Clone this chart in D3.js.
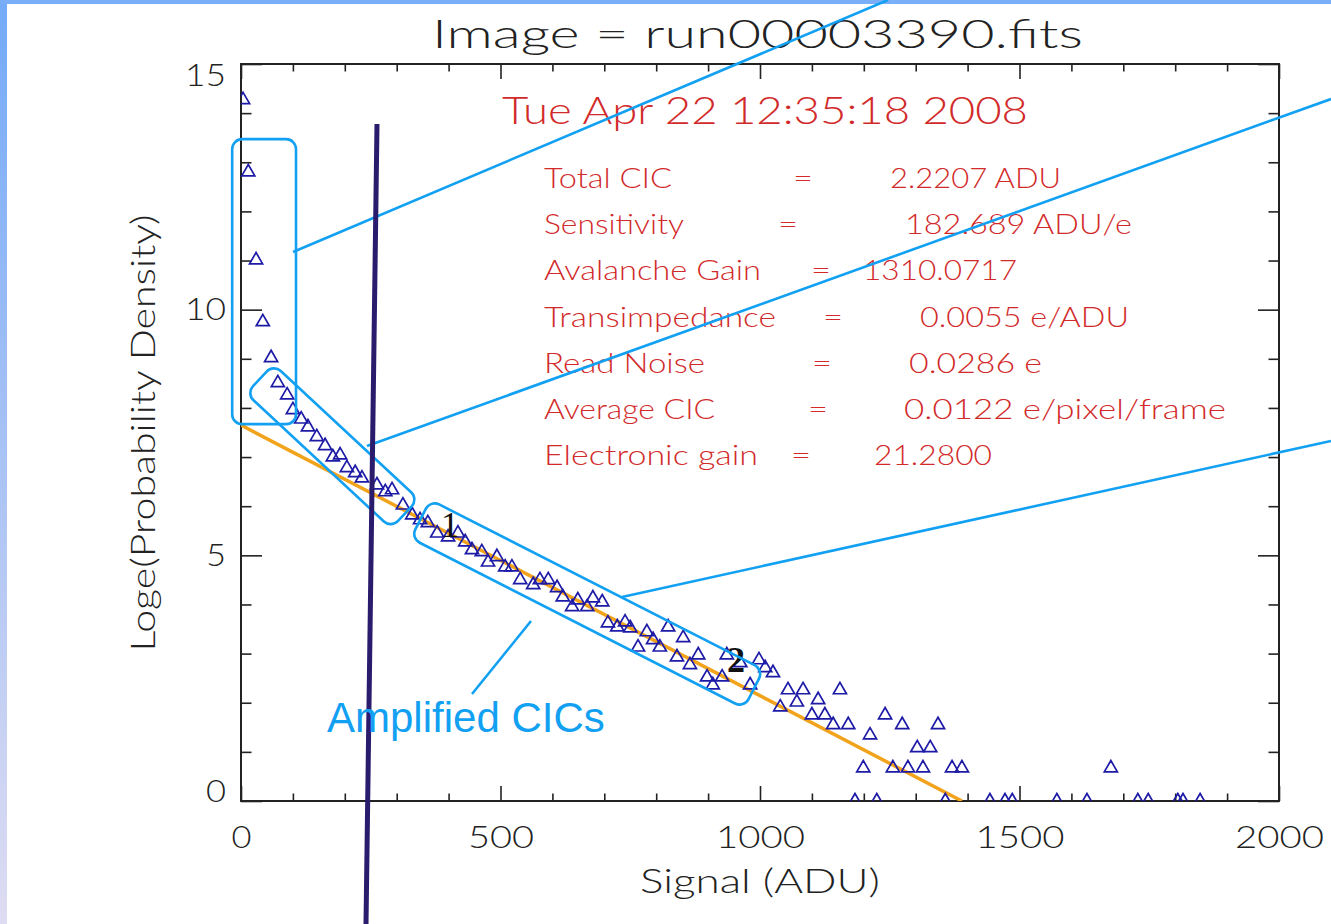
<!DOCTYPE html>
<html>
<head>
<meta charset="utf-8">
<script src="https://cdn.jsdelivr.net/npm/d3@7"></script>
<style>
  body { margin: 0; background: #fff; }
  text { font-family: Lato, "DejaVu Sans", sans-serif; font-weight: 300; }
</style>
</head>
<body>
<svg id="chart" width="1331" height="924"></svg>
<script>
// histogram points: signal (ADU) vs log(probability density)
const signalADU = [4, 14, 29, 42, 58, 71, 89, 100, 116, 129,
    146, 162, 177, 191, 204, 220, 233, 262, 278, 291,
    312, 330, 345, 360, 378, 399, 418, 432, 445, 464,
    476, 493, 509, 522, 538, 563, 576, 592, 609, 620,
    638, 649, 667, 678, 696, 707, 725, 740, 750, 765,
    782, 794, 807, 823, 840, 852, 865, 881, 898, 909,
    927, 936, 962, 981, 998, 1010, 1025, 1054, 1083, 1154,
    1039, 1071, 1112, 1100, 1125, 1141, 1170, 1212, 1241, 1274,
    1343, 1303, 1328, 1199, 1256, 1285, 1314, 1370, 1389, 1676,
    1183, 1225, 1357, 1443, 1472, 1486, 1572, 1630, 1728, 1748, 1805, 1815, 1848];
const logDensity = [14.27, 12.80, 11.01, 9.75, 9.02, 8.51, 8.26, 7.96, 7.77, 7.61,
    7.41, 7.23, 7.00, 7.04, 6.78, 6.68, 6.57, 6.43, 6.29, 6.33,
    6.02, 5.82, 5.72, 5.66, 5.45, 5.37, 5.45, 5.27, 5.11, 5.07,
    4.86, 4.97, 4.76, 4.76, 4.50, 4.40, 4.50, 4.50, 4.34, 4.15,
    3.95, 4.09, 3.95, 4.13, 4.05, 3.62, 3.54, 3.64, 3.52, 3.13,
    3.44, 3.28, 3.13, 3.54, 2.93, 3.32, 2.77, 2.97, 2.52, 2.36,
    2.52, 2.97, 2.81, 2.36, 2.87, 2.71, 2.61, 2.26, 2.26, 2.26,
    1.91, 2.01, 2.06, 1.75, 1.75, 1.55, 1.55, 1.34, 1.75, 1.55,
    1.55, 1.08, 1.08, 0.67, 0.67, 0.67, 0.67, 0.67, 0.67, 0.67,
    0, 0, 0, 0, 0, 0, 0, 0, 0, 0, 0, 0, 0];

// fitted line (orange)
const fitSignal = [0, 1389];
const fitLog = [7.65, 0];

const xTicks = [0, 500, 1000, 1500, 2000];
const yTicks = [0, 5, 10, 15];

const titleText = "Image = run00003390.fits";
const dateText = "Tue Apr 22 12:35:18 2008";
const statLabels = ["Total CIC", "Sensitivity", "Avalanche Gain", "Transimpedance",
    "Read Noise", "Average CIC", "Electronic gain"];
const statValues = ["2.2207 ADU", "182.689 ADU/e", "1310.0717", "0.0055 e/ADU",
    "0.0286 e", "0.0122 e/pixel/frame", "21.2800"];

// layout of the red stats block (pixels), one entry per line
const statLayout = [
    { lw: 128, eq: 793, vx: 890, vw: 171 },
    { lw: 140, eq: 778, vx: 905, vw: 227 },
    { lw: 217, eq: 811, vx: 863, vw: 154 },
    { lw: 232, eq: 823, vx: 920, vw: 209 },
    { lw: 161, eq: 812, vx: 909, vw: 133 },
    { lw: 171, eq: 808, vx: 904, vw: 322 },
    { lw: 214, eq: 791, vx: 874, vw: 118 }
];

const width = 1331, height = 924;
const svg = d3.select("#chart");

const x = d3.scaleLinear().domain([0, 2000]).range([241, 1279]);
const y = d3.scaleLinear().domain([0, 15]).range([801, 64]);

// slide background edges
const defs = svg.append("defs");
const grad = defs.append("linearGradient").attr("id", "edge")
    .attr("x1", 0).attr("y1", 0).attr("x2", 0).attr("y2", 1);
grad.append("stop").attr("offset", "0%").attr("stop-color", "#74aaf7");
grad.append("stop").attr("offset", "100%").attr("stop-color", "#dedcf2");
svg.append("rect").attr("width", width).attr("height", height).attr("fill", "#fff");
svg.append("rect").attr("width", 7).attr("height", height).attr("fill", "url(#edge)");
svg.append("rect").attr("width", width).attr("height", 4).attr("fill", "#7aaef8");

defs.append("clipPath").attr("id", "plotclip").append("rect")
    .attr("x", x(0)).attr("y", y(15)).attr("width", x(2000) - x(0)).attr("height", y(0) - y(15));

// axes: major + minor ticks, all pointing inward
const minorX = d3.range(0, 2001, 100).filter(d => d % 500 !== 0);
const minorY = d3.range(0, 16, 1).filter(d => d % 5 !== 0);

function drawAxis(axis, tx, ty) {
    const g = svg.append("g").attr("transform", `translate(${tx},${ty})`).call(axis);
    g.select(".domain").remove();
    g.selectAll("line").attr("stroke", "#222").attr("stroke-width", 1.6);
    return g;
}

const bottom = drawAxis(d3.axisBottom(x).tickValues(xTicks).tickSize(-15).tickPadding(24)
    .tickFormat(d3.format("d")), 0, y(0));
drawAxis(d3.axisBottom(x).tickValues(minorX).tickSize(-7.5).tickFormat(""), 0, y(0));
drawAxis(d3.axisTop(x).tickValues(xTicks).tickSize(-15).tickFormat(""), 0, y(15));
drawAxis(d3.axisTop(x).tickValues(minorX).tickSize(-7.5).tickFormat(""), 0, y(15));

const left = drawAxis(d3.axisLeft(y).tickValues(yTicks).tickSize(-21).tickPadding(15)
    .tickFormat(d3.format("d")), x(0), 0);
drawAxis(d3.axisLeft(y).tickValues(minorY).tickSize(-10.5).tickFormat(""), x(0), 0);
drawAxis(d3.axisRight(y).tickValues(yTicks).tickSize(-21).tickFormat(""), x(2000), 0);
drawAxis(d3.axisRight(y).tickValues(minorY).tickSize(-10.5).tickFormat(""), x(2000), 0);

bottom.selectAll("text")
    .attr("font-family", "Lato, 'DejaVu Sans', sans-serif")
    .attr("font-size", 32).attr("fill", "#222")
    .attr("textLength", d => String(d).length * 23 - 3)
    .attr("lengthAdjust", "spacingAndGlyphs");
left.selectAll("text")
    .attr("font-family", "Lato, 'DejaVu Sans', sans-serif")
    .attr("font-size", 32).attr("fill", "#222")
    .attr("dy", d => d === 15 ? "0.67em" : d === 0 ? "0.03em" : "0.32em")
    .attr("textLength", d => String(d).length * 21 - 1)
    .attr("lengthAdjust", "spacingAndGlyphs");

svg.append("rect")
    .attr("x", x(0)).attr("y", y(15))
    .attr("width", x(2000) - x(0)).attr("height", y(0) - y(15))
    .attr("fill", "none").attr("stroke", "#222").attr("stroke-width", 2);

// axis titles
svg.append("text").attr("x", 760).attr("y", 893).attr("text-anchor", "middle")
    .attr("font-size", 34).attr("fill", "#222")
    .attr("textLength", 240).attr("lengthAdjust", "spacingAndGlyphs")
    .text("Signal (ADU)");
svg.append("text").attr("transform", "translate(155,433) rotate(-90)")
    .attr("text-anchor", "middle").attr("font-size", 34).attr("fill", "#222")
    .attr("textLength", 437).attr("lengthAdjust", "spacingAndGlyphs")
    .text("Loge(Probability Density)");

// title
svg.append("text").attr("x", 432).attr("y", 48)
    .attr("font-size", 40).attr("fill", "#222")
    .attr("textLength", 651).attr("lengthAdjust", "spacingAndGlyphs")
    .text(titleText);

// fit line and data points
const plot = svg.append("g").attr("clip-path", "url(#plotclip)");
const fitLine = d3.line().x(d => x(d[0])).y(d => y(d[1]));
plot.append("path")
    .datum(d3.zip(fitSignal, fitLog))
    .attr("d", fitLine)
    .attr("fill", "none").attr("stroke", "#f2a31c").attr("stroke-width", 3.5);

const tri = d3.symbol().type(d3.symbolTriangle).size(74);
plot.selectAll("path.pt")
    .data(d3.zip(signalADU, logDensity))
    .join("path")
    .attr("class", "pt")
    .attr("d", tri)
    .attr("transform", d => `translate(${x(d[0])},${y(d[1])})`)
    .attr("fill", "none").attr("stroke", "#1d1aa6").attr("stroke-width", 1.7);

// red text block
const red = "#d22a2a";
svg.append("text").attr("x", 502).attr("y", 124)
    .attr("font-size", 37).attr("fill", red)
    .attr("textLength", 526).attr("lengthAdjust", "spacingAndGlyphs")
    .text(dateText);

const stats = svg.append("g").selectAll("g")
    .data(statLabels.map((l, i) => ({ label: l, value: statValues[i], lay: statLayout[i], i })))
    .join("g")
    .attr("transform", d => `translate(0,${188 + d.i * 46.2})`)
    .attr("fill", red).attr("font-size", 27);
stats.append("text").attr("x", 544).text(d => d.label)
    .attr("textLength", d => d.lay.lw).attr("lengthAdjust", "spacingAndGlyphs");
stats.append("text").attr("x", d => d.lay.eq).text("=")
    .attr("textLength", 20).attr("lengthAdjust", "spacingAndGlyphs");
stats.append("text").attr("x", d => d.lay.vx).text(d => d.value)
    .attr("textLength", d => d.lay.vw).attr("lengthAdjust", "spacingAndGlyphs");

// point labels "1" and "2"
svg.append("text").attr("x", 441).attr("y", 537)
    .style("font-family", "'Liberation Serif', serif").style("font-weight", 400)
    .attr("font-size", 36).attr("fill", "#111").text("1");
svg.append("text").attr("x", 727).attr("y", 672)
    .style("font-family", "'Liberation Serif', serif").style("font-weight", 700)
    .attr("font-size", 36).attr("fill", "#111").text("2");

// slide annotations
const cyan = "#12a0f2";
const ann = svg.append("g").attr("fill", "none").attr("stroke", cyan).attr("stroke-width", 2.6);

ann.append("rect")
    .attr("x", x(-17)).attr("y", y(13.47))
    .attr("width", x(106) - x(-17)).attr("height", y(7.67) - y(13.47))
    .attr("rx", 10);

function tiltedBox(cx, cy, len, thick, angle) {
    ann.append("rect")
        .attr("x", -len / 2).attr("y", -thick / 2)
        .attr("width", len).attr("height", thick).attr("rx", 10)
        .attr("transform", `translate(${x(cx)},${y(cy)}) rotate(${angle})`);
}
tiltedBox(176, 7.22, 198, 40, 42.9);
tiltedBox(667, 4.01, 374, 43, 27);

svg.append("line")
    .attr("x1", 377).attr("y1", 124).attr("x2", 366).attr("y2", 924)
    .attr("stroke", "#2b1b6c").attr("stroke-width", 5);

const callouts = [
    [293, 252, 888, 0],
    [367, 446, 1331, 99],
    [622, 597, 1331, 441],
    [472, 694, 531, 621]
];
ann.selectAll("line").data(callouts).join("line")
    .attr("x1", d => d[0]).attr("y1", d => d[1])
    .attr("x2", d => d[2]).attr("y2", d => d[3]);

svg.append("text").attr("x", 327).attr("y", 732)
    .style("font-family", "'Liberation Sans', Arial, sans-serif").style("font-weight", 400)
    .attr("font-size", 42).attr("fill", cyan)
    .text("Amplified CICs");
</script>
</body>
</html>
